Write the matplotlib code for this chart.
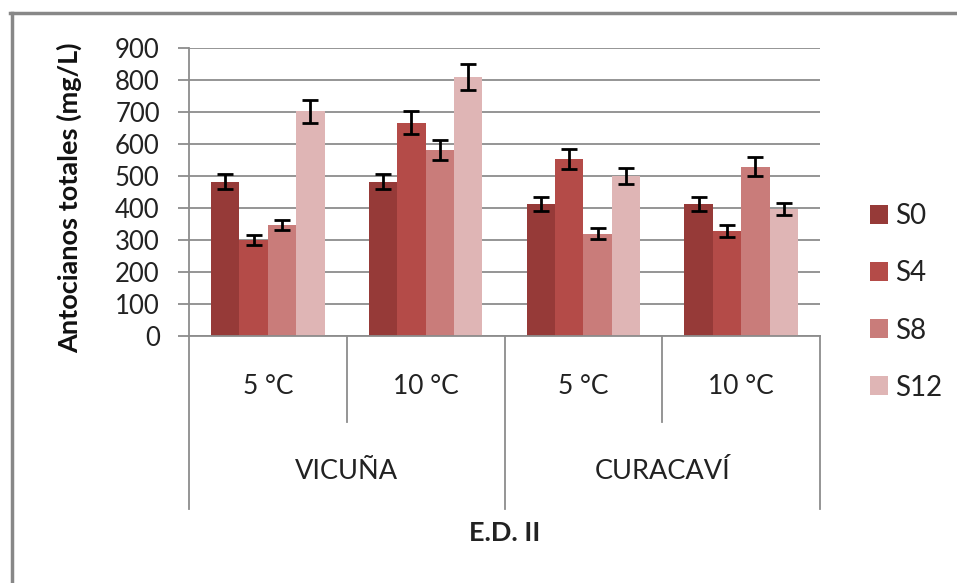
import matplotlib
matplotlib.use('Agg')
import matplotlib.pyplot as plt
from matplotlib.lines import Line2D
import numpy as np

# data
sub_labels = ['5 °C', '10 °C', '5 °C', '10 °C']
group_labels = ['VICUÑA', 'CURACAVÍ']
series_names = ['S0', 'S4', 'S8', 'S12']
s0 = [482, 482, 412, 412]
s4 = [300, 667, 553, 328]
s8 = [347, 581, 319, 529]
s12 = [703, 810, 500, 397]
s0_err = [24, 24, 22, 22]
s4_err = [17, 36, 30, 18]
s8_err = [17, 30, 17, 29]
s12_err = [36, 40, 26, 20]
colors = ['#963A38', '#B44B48', '#C97C7A', '#DFB5B5']

plt.rcParams['font.family'] = ['Lato', 'DejaVu Sans']

fig = plt.figure(figsize=(9.57, 5.83), dpi=100)
ax = fig.add_axes([0.1975, 0.4237, 0.6594, 0.494])

x = np.arange(len(sub_labels))
width = 0.18
values = [s0, s4, s8, s12]
errors = [s0_err, s4_err, s8_err, s12_err]
handles = []
for i in range(4):
    pos = x + (i - 1.5) * width
    b = ax.bar(pos, values[i], width=width, color=colors[i], label=series_names[i], zorder=2)
    ax.errorbar(pos, values[i], yerr=errors[i], fmt='none', ecolor='black',
                elinewidth=2, capsize=5.5, capthick=2, zorder=3)
    handles.append(b)

ax.set_xlim(-0.5, 3.5)
ax.set_ylim(0, 900)
ax.set_yticks(range(0, 1000, 100))
ax.grid(axis='y', color='#8c8c8c', linewidth=1.3, zorder=0)
ax.set_axisbelow(True)
for s in ['top', 'right']:
    ax.spines[s].set_visible(False)
ax.spines['left'].set_color('#8c8c8c')
ax.spines['bottom'].set_color('#8c8c8c')
ax.spines['left'].set_linewidth(1.3)
ax.spines['bottom'].set_linewidth(1.3)
ax.tick_params(axis='y', length=8, width=1.3, color='#8c8c8c', pad=13, labelsize=18.5, labelcolor='#222222')
ax.tick_params(axis='x', length=0, labelbottom=False)

# hierarchical category axis
tr = ax.get_xaxis_transform()
for xs in [0.5, 2.5]:
    ax.plot([xs, xs], [0, -0.298], transform=tr, color='#8c8c8c', lw=1.3, clip_on=False)
for xs in [-0.5, 1.5, 3.5]:
    ax.plot([xs, xs], [0, -0.601], transform=tr, color='#8c8c8c', lw=1.3, clip_on=False)
for i, lab in enumerate(sub_labels):
    ax.text(i, -0.177, lab, transform=tr, ha='center', va='center', fontsize=19, color='#222222')
for i, lab in enumerate(group_labels):
    ax.text(0.5 + 2 * i, -0.472, lab, transform=tr, ha='center', va='center', fontsize=19.5, color='#222222')
ax.text(0.5, -0.684, 'E.D. II', transform=ax.transAxes, ha='center', va='center',
        fontsize=19.5, fontweight='bold', color='#222222')

fig.text(0.073, 0.66, 'Antocianos totales (mg/L)', rotation=90, ha='center', va='center',
         fontsize=19.5, fontweight='bold', color='#111111')

# legend
fig.legend(handles=handles, labels=series_names, loc='center left',
           bbox_to_anchor=(0.897, 0.482), frameon=False, fontsize=20,
           handlelength=0.68, handleheight=0.68, handletextpad=0.25, labelspacing=1.12,
           borderaxespad=0, labelcolor='#222222')

# outer frame
fig.add_artist(Line2D([0.010, 1.0], [0.978, 0.978], color='#888888', lw=2.5, transform=fig.transFigure))
fig.add_artist(Line2D([0.0125, 0.0125], [0.0, 0.978], color='#888888', lw=2.5, transform=fig.transFigure))

fig.savefig('out.png', dpi=100)
